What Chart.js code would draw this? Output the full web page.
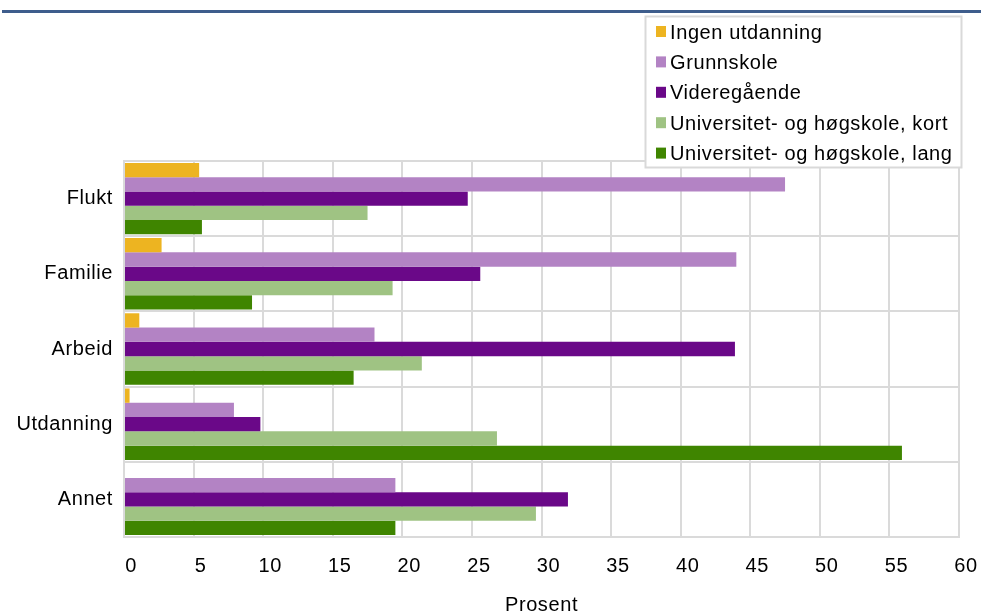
<!DOCTYPE html>
<html>

<head>
    <title>Innvandrere etter innvandringsgrunn og utdanning</title>
    <script src="https://cdn.jsdelivr.net/npm/chart.js"></script>
    <style>
        html,
        body {
            margin: 0;
            padding: 0;
            background: #fff;
        }

        #wrap {
            position: relative;
            width: 981px;
            height: 615px;
        }
    </style>
</head>

<body>
    <div id="wrap">
        <canvas id="eduChart" width="981" height="615"></canvas>
    </div>

    <script>
        // categories (innvandringsgrunn)
        const reasons = ['Flukt', 'Familie', 'Arbeid', 'Utdanning', 'Annet'];

        // series values, prosent
        const ingenUtdanning = [5.4, 2.7, 1.1, 0.4, null];
        const grunnskole = [47.5, 44.0, 18.0, 7.9, 19.5];
        const videregaende = [24.7, 25.6, 43.9, 9.8, 31.9];
        const uniKort = [17.5, 19.3, 21.4, 26.8, 29.6];
        const uniLang = [5.6, 9.2, 16.5, 55.9, 19.5];

        const seriesNames = ['Ingen utdanning', 'Grunnskole', 'Videregående',
            'Universitet- og høgskole, kort', 'Universitet- og høgskole, lang'];
        const seriesColors = ['#edb421', '#b383c4', '#6a0888', '#9fc383', '#3f8500'];

        // x axis ticks
        const xMin = 0;
        const xMax = 60;
        const xStep = 5;

        const font = 'Liberation Sans, Arial, sans-serif';
        const gridColor = '#dadada';

        // blue rule at the top of the page, plus a bit of letter spacing for all text
        const topRule = {
            id: 'topRule',
            beforeLayout(chart) {
                chart.ctx.letterSpacing = '0.6px';
            },
            beforeDraw(chart) {
                const c = chart.ctx;
                c.letterSpacing = '0.6px';
                c.save();
                c.fillStyle = '#3e5d8c';
                c.fillRect(2, 10, chart.width - 2, 3);
                c.restore();
            }
        };

        // legend box drawn over the top right corner of the plot
        const boxLegend = {
            id: 'boxLegend',
            afterDraw(chart) {
                const c = chart.ctx;
                const x = 645, y = 16, w = 316, h = 151;
                c.save();
                c.fillStyle = '#fff';
                c.fillRect(x, y, w, h);
                c.strokeStyle = '#d9d9d9';
                c.lineWidth = 2;
                c.strokeRect(x + 0.5, y + 0.5, w, h);
                c.font = '20px ' + font;
                c.textBaseline = 'middle';
                chart.data.datasets.forEach((ds, i) => {
                    const cy = 32 + i * 30.4;
                    c.fillStyle = ds.backgroundColor;
                    c.fillRect(656, cy - 6, 10, 11);
                    c.fillStyle = '#000';
                    c.fillText(ds.label, 670, cy + 1);
                });
                c.restore();
            }
        };

        const seriesData = [ingenUtdanning, grunnskole, videregaende, uniKort, uniLang];

        new Chart(document.getElementById('eduChart'), {
            type: 'bar',
            data: {
                labels: reasons,
                datasets: seriesData.map((vals, i) => ({
                    label: seriesNames[i],
                    data: vals,
                    backgroundColor: seriesColors[i],
                    categoryPercentage: 0.95,
                    barPercentage: 1.0
                }))
            },
            options: {
                indexAxis: 'y',
                responsive: false,
                animation: false,
                layout: {
                    padding: { left: 0, top: 161, right: 22, bottom: 0 }
                },
                plugins: {
                    legend: { display: false },
                    tooltip: { enabled: false }
                },
                scales: {
                    x: {
                        min: xMin,
                        max: xMax,
                        ticks: {
                            stepSize: xStep,
                            color: '#000',
                            padding: 17,
                            labelOffset: 7,
                            font: { family: font, size: 20 }
                        },
                        grid: { color: gridColor, lineWidth: 2, drawTicks: false },
                        border: { color: gridColor, width: 2 },
                        title: {
                            display: true,
                            text: 'Prosent',
                            color: '#000',
                            padding: { top: 0, bottom: -2 },
                            font: { family: font, size: 20 }
                        },
                        afterFit(scale) {
                            scale.height = 78;
                            scale.paddingLeft = 0;
                            scale.paddingRight = 0;
                        }
                    },
                    y: {
                        ticks: {
                            color: '#000',
                            padding: 11,
                            font: { family: font, size: 20 }
                        },
                        grid: { color: gridColor, lineWidth: 2, drawTicks: false, offset: true },
                        border: { color: gridColor, width: 2 },
                        afterFit(scale) { scale.width = 124; }
                    }
                }
            },
            plugins: [topRule, boxLegend]
        });
    </script>

</body>

</html>
